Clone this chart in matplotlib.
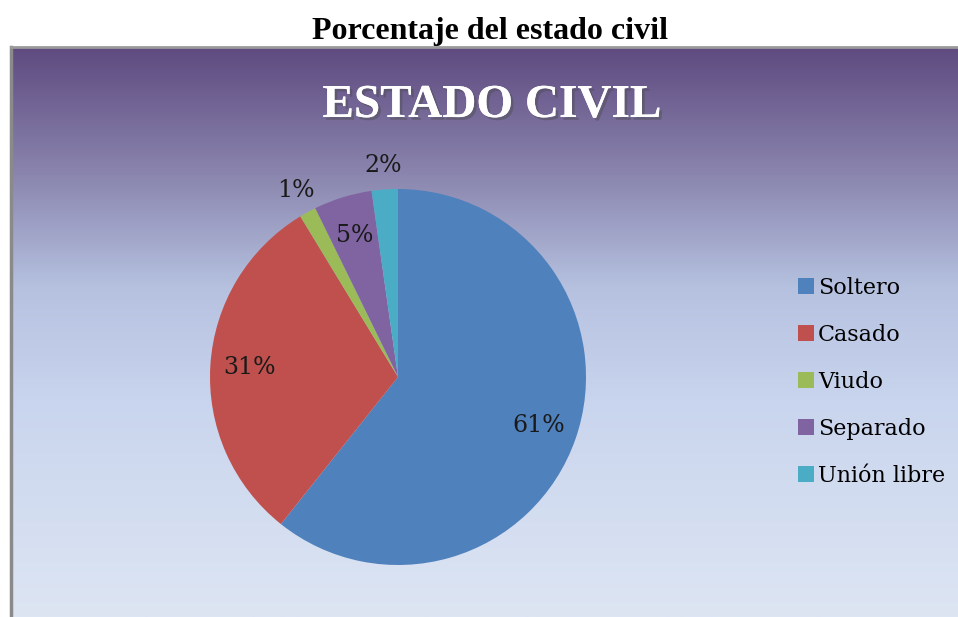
import numpy as np
import matplotlib
matplotlib.use("Agg")
import matplotlib.pyplot as plt
import matplotlib.patheffects as pe
from matplotlib.colors import LinearSegmentedColormap

# data
categorias = ["Soltero", "Casado", "Viudo", "Separado", "Unión libre"]
porcentajes = [60.7, 30.6, 1.45, 5.0, 2.25]
colores = ["#4F81BD", "#C0504D", "#9BBB59", "#8064A2", "#4BACC6"]

W, H = 958, 617
fig = plt.figure(figsize=(W / 100, H / 100), dpi=100, facecolor="white")

# background of the chart box: purple -> light blue gradient
bg = fig.add_axes([12 / W, 0, (W - 12) / W, (H - 48) / H])
grad = LinearSegmentedColormap.from_list(
    "fondo",
    [(0.0, "#5f4b80"), (0.22, "#8a85ae"), (0.42, "#b5c1df"),
     (0.62, "#c9d5ee"), (1.0, "#dde5f3")])
bg.imshow(np.linspace(0, 1, 256).reshape(-1, 1), cmap=grad, aspect="auto",
          extent=[0, 1, 0, 1])
bg.set_axis_off()

# grey frame on left and top
fig.add_artist(plt.Line2D([11 / W, 11 / W], [0, 1 - 47 / H], color="#8a8a8a",
                          lw=2.5, transform=fig.transFigure))
fig.add_artist(plt.Line2D([11 / W, 1], [1 - 47 / H, 1 - 47 / H], color="#9a9a9a",
                          lw=2, transform=fig.transFigure))

# titles
fig.text(490 / W, 1 - 39 / H, "Porcentaje del estado civil", ha="center",
         va="baseline", fontsize=23, fontweight="bold", family="Liberation Serif")
fig.text(492 / W, 1 - 117 / H, "ESTADO CIVIL", ha="center", va="baseline",
         fontsize=34, fontweight="bold", family="Liberation Serif", color="white",
         path_effects=[pe.withSimplePatchShadow(offset=(2, -2), alpha=0.45),
                       pe.Normal()])

# pie
R = 188
cx, cy = 398, 377
half = 1.3 * R
ax = fig.add_axes([(cx - half) / W, (H - cy - half) / H, 2 * half / W, 2 * half / H])
wedges, _, autotexts = ax.pie(porcentajes, colors=colores, startangle=90,
                              counterclock=False, autopct="%1.0f%%",
                              pctdistance=0.79,
                              textprops=dict(fontsize=17, family="DejaVu Serif",
                                             color="#1a1a1a"))
for w, t, p in zip(wedges, autotexts, porcentajes):
    w.set_linewidth(0)
    if p < 3:
        ang = np.deg2rad((w.theta1 + w.theta2) / 2)
        t.set_position((1.13 * np.cos(ang), 1.13 * np.sin(ang)))
ax.set_xlim(-1.3, 1.3)
ax.set_ylim(-1.3, 1.3)
ax.set_aspect("equal")
ax.set_axis_off()

fig.legend(wedges, categorias, loc="upper left",
           bbox_to_anchor=(778 / W, 1 - 257 / H), frameon=False,
           handlelength=0.7, handleheight=0.7, handletextpad=0.2,
           labelspacing=1.12,
           prop=dict(size=16, family="DejaVu Serif"))

fig.savefig("out.png", dpi=100, facecolor="white")
